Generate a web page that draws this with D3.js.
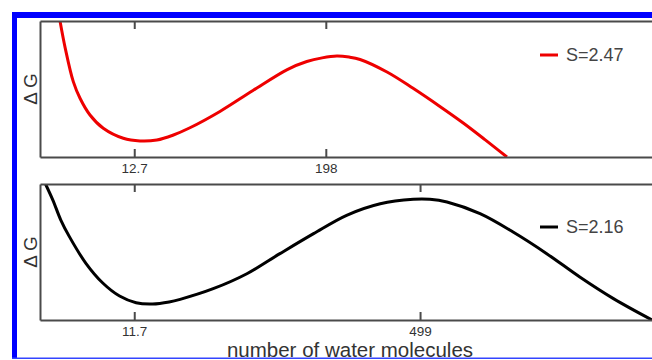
<!DOCTYPE html>
<html>
<head>
<meta charset="utf-8">
<script src="https://cdn.jsdelivr.net/npm/d3@7"></script>
<style>
  html, body { margin: 0; padding: 0; background: #fff; }
  svg { display: block; }
  text { font-family: "Liberation Sans", Arial, Helvetica, sans-serif; }
</style>
</head>
<body>
<svg id="chart" width="652" height="360"></svg>
<script>
// ---- data (reaction coordinate in arbitrary units 0..100, ΔG in arbitrary units 0..100) ----
const seriesNames = ["S=2.47", "S=2.16"];
const seriesColors = ["#ee0000", "#000000"];

const redX = [3.27, 4.13, 5.44, 6.54, 8.17, 10.34, 13.61, 16.34, 19.1, 21.7, 24.5, 29.4, 34.8, 40.4, 43.6, 46.1, 48.5, 50.5, 52.3, 56.7, 60.9, 65.4, 69.1, 72.7, 76.3];
const redY = [100, 79.9, 55.4, 43.2, 30.9, 21.1, 13.75, 11.8, 12.5, 16.0, 21.5, 33.5, 48.9, 64.3, 70.2, 72.9, 74.3, 73.5, 71.7, 62.5, 50.7, 37.0, 25.2, 12.8, 0];

const blackX = [0.9, 2.1, 3.4, 4.8, 7.5, 10.3, 13.0, 15.7, 18.4, 21.1, 22.9, 28.3, 33.8, 39.2, 44.7, 50.1, 55.6, 61.0, 63.7, 66.5, 71.9, 77.3, 82.8, 88.2, 93.7, 100];
const blackY = [100, 88.2, 73.5, 61.3, 41.7, 27.0, 17.6, 12.7, 11.8, 13.3, 15.2, 23.0, 34.0, 48.8, 63.5, 77.0, 85.5, 88.8, 88.8, 86.8, 78.2, 64.7, 48.8, 31.6, 15.7, 0];

// tick positions (reaction coordinate) and their labels (number of water molecules)
const topTickPos = [15.4, 46.7];
const topTickLabels = ["12.7", "198"];
const bottomTickPos = [15.4, 62.1];
const bottomTickLabels = ["11.7", "499"];

const yLabel = "Δ G";
const xLabel = "number of water molecules";

// ---- drawing ----
const svg = d3.select("#chart");
const axisColor = "#4a4a4a";
const textColor = "#333";

// blue frame
svg.append("rect").attr("x", 12).attr("y", 12).attr("width", 640).attr("height", 6).attr("fill", "#0000ff");
svg.append("rect").attr("x", 12).attr("y", 12).attr("width", 5).attr("height", 347).attr("fill", "#0000ff");
svg.append("rect").attr("x", 12).attr("y", 357.5).attr("width", 640).attr("height", 1.5).attr("fill", "#3344ff");

const panels = [
  { top: 21, bottom: 157, xs: redX, ys: redY, ticks: topTickPos, labels: topTickLabels, name: seriesNames[0], color: seriesColors[0], legendY: 55 },
  { top: 184, bottom: 320, xs: blackX, ys: blackY, ticks: bottomTickPos, labels: bottomTickLabels, name: seriesNames[1], color: seriesColors[1], legendY: 227 }
];

const left = 40, right = 652;

panels.forEach((p, i) => {
  const x = d3.scaleLinear().domain([0, 100]).range([left, right]);
  const y = d3.scaleLinear().domain([0, 100]).range([p.bottom, p.top]);
  const g = svg.append("g");

  const clipId = "clip" + i;
  svg.append("clipPath").attr("id", clipId)
    .append("rect").attr("x", left).attr("y", p.top).attr("width", right - left).attr("height", p.bottom - p.top);

  const data = p.xs.map((v, k) => [v, p.ys[k]]);
  g.append("path")
    .datum(data)
    .attr("clip-path", `url(#${clipId})`)
    .attr("fill", "none")
    .attr("stroke", p.color)
    .attr("stroke-width", 3)
    .attr("stroke-linejoin", "round")
    .attr("d", d3.line().x(d => x(d[0])).y(d => y(d[1])).curve(d3.curveCatmullRom.alpha(0.5)));

  // bottom axis with inward ticks and labels
  const axB = g.append("g").attr("transform", `translate(0,${p.bottom})`)
    .call(d3.axisBottom(x).tickValues(p.ticks).tickFormat((d, k) => p.labels[k])
      .tickSizeInner(-8).tickSizeOuter(0).tickPadding(6));
  // top axis, ticks only
  const axT = g.append("g").attr("transform", `translate(0,${p.top})`)
    .call(d3.axisTop(x).tickValues(p.ticks).tickFormat(() => "")
      .tickSizeInner(-8).tickSizeOuter(0));
  // left axis line
  const axL = g.append("g").attr("transform", `translate(${left},0)`)
    .call(d3.axisLeft(y).tickValues([]).tickSizeOuter(0));

  [axB, axT, axL].forEach(a => {
    a.selectAll("path, line").attr("stroke", axisColor).attr("stroke-width", 2);
  });
  axB.selectAll("text").attr("fill", textColor).style("font-size", "13.5px")
    .style("font-family", '"Liberation Sans", Arial, sans-serif');

  // y label
  g.append("text")
    .attr("transform", `translate(37,${(p.top + p.bottom) / 2}) rotate(-90)`)
    .attr("text-anchor", "middle")
    .attr("fill", textColor)
    .style("font-size", "19px")
    .text(yLabel);

  // legend
  g.append("line")
    .attr("x1", 540).attr("x2", 558).attr("y1", p.legendY).attr("y2", p.legendY)
    .attr("stroke", p.color).attr("stroke-width", 3);
  g.append("text")
    .attr("x", 566).attr("y", p.legendY)
    .attr("dy", "0.36em")
    .attr("fill", "#444")
    .style("font-size", "18px")
    .text(p.name);
});

// x label
svg.append("text")
  .attr("x", 350).attr("y", 356.5)
  .attr("text-anchor", "middle")
  .attr("fill", textColor)
  .style("font-size", "20.5px")
  .text(xLabel);
</script>
</body>
</html>
